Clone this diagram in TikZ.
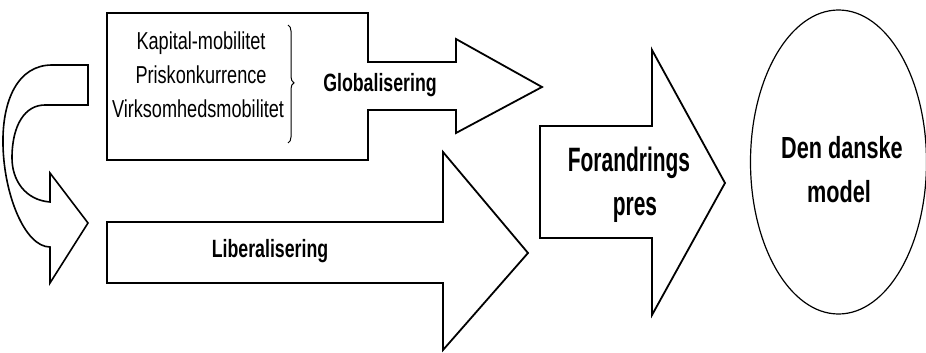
\documentclass[tikz,border=0pt]{standalone}
\usepackage{fontspec}
\setmainfont{Liberation Sans}
\newfontfamily\cnd[FakeStretch=0.74]{Liberation Sans}
\newfontfamily\cndb[FakeStretch=0.71]{Liberation Sans}
\newfontfamily\cndf[FakeStretch=0.62]{Liberation Sans}
\usetikzlibrary{decorations.pathreplacing}
\tikzset{
  outline/.style={draw=black, line width=1.8pt, line join=miter, fill=white},
  smalltxt/.style={font=\cnd\fontsize{24.5}{28}\selectfont, anchor=base, inner sep=0pt},
  boldtxt/.style={font=\cndb\bfseries\fontsize{25}{28}\selectfont, anchor=base, inner sep=0pt},
  bigtxt/.style={font=\cndf\bfseries\fontsize{33.8}{38}\selectfont, anchor=base, inner sep=0pt},
  modeltxt/.style={font=\cndb\bfseries\fontsize{30.5}{34}\selectfont, anchor=base, inner sep=0pt},
}
\begin{document}
\begin{tikzpicture}[x=1pt, y=-1pt]
\useasboundingbox (0,0) rectangle (926,353);
\fill[white] (0,0) rectangle (926,353);

% curved arrow on the left
\draw[outline, line width=1.6pt]
  (88,65) -- (52,65)
  .. controls (18,65) and (2,100) .. (3,145)
  .. controls (4,195) and (25,247) .. (50,247)
  -- (50,283) -- (88,223) -- (50,173) -- (50,202)
  .. controls (25,200) and (12,180) .. (12,158)
  .. controls (12,125) and (25,105) .. (45,105)
  -- (88,105) -- cycle;

% Globalisering box + arrow
\draw[outline]
  (107,13) -- (368,13) -- (368,62) -- (456,62) -- (456,39) -- (542,87)
  -- (456,133) -- (456,110) -- (368,110) -- (368,160) -- (107,160) -- cycle;

% Liberalisering arrow
\draw[outline]
  (107,222) -- (443,222) -- (443,152) -- (528,253) -- (443,350)
  -- (443,283) -- (107,283) -- cycle;

% Forandringspres arrow
\draw[outline]
  (540,126) -- (652,126) -- (652,50) -- (725,183) -- (652,315)
  -- (652,238) -- (540,238) -- cycle;

% Den danske model ellipse
\draw[line width=1.2pt] (838.5,162) ellipse [x radius=88, y radius=152];

% texts
\node[smalltxt] (kap) at (201,49) {Kapital-mobilitet};
\node[smalltxt] (pris) at (201,83) {Priskonkurrence};
\node[smalltxt] (virk) at (198,117) {Virksomhedsmobilitet};
\coordinate (btop) at (288,25);
\coordinate (bbot) at (288,143);
\draw[line width=1pt, decorate, decoration={brace, amplitude=6pt, aspect=0.49}] (btop) -- (bbot);
\node[boldtxt] (glob) at (380,92) {Globalisering};
\node[boldtxt] (lib) at (270,257) {Liberalisering};
\node[bigtxt] (forand) at (629,171) {Forandrings};
\node[bigtxt] (pres) at (635,215) {pres};
\node[modeltxt] (den) at (842,158) {Den danske};
\node[modeltxt] (model) at (839,202) {model};
\end{tikzpicture}
\end{document}
